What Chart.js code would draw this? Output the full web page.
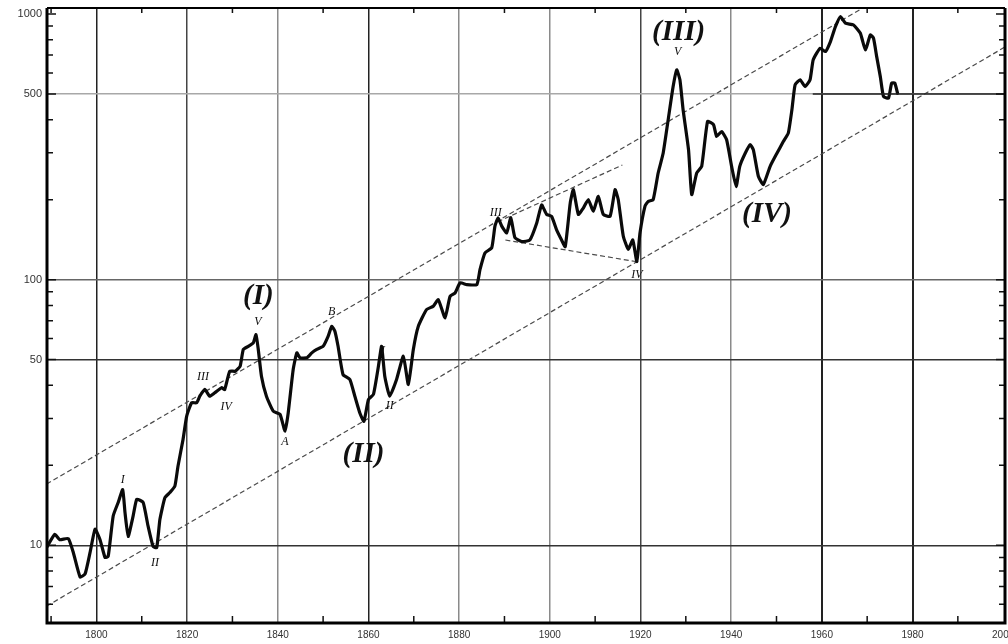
<!DOCTYPE html>
<html>
<head>
<meta charset="utf-8">
<script src="https://cdn.jsdelivr.net/npm/chart.js@4"></script>
<style>
  html, body { margin: 0; padding: 0; background: #fff; }
  #wrap { width: 1008px; height: 644px; }
</style>
</head>
<body>
<div id="wrap"><canvas id="waveChart" width="1008" height="644"></canvas></div>
<script>
// price index
const years = [
  1789.0, 1790.8, 1791.9, 1793.8, 1794.9, 1796.4, 1797.5, 1798.6, 1799.7, 1800.8,
  1801.9, 1802.6, 1803.7, 1804.8, 1805.8, 1806.3, 1807.0, 1808.1, 1808.9, 1810.3,
  1811.4, 1812.5, 1813.3, 1814.0, 1815.1, 1816.2, 1817.3, 1818.0, 1819.1, 1819.9,
  1821.0, 1822.1, 1822.8, 1823.9, 1825.0, 1826.1, 1827.6, 1828.3, 1829.4, 1830.6,
  1831.7, 1832.4, 1833.5, 1834.6, 1835.2, 1835.7, 1836.4, 1837.5, 1839.0, 1840.5,
  1841.6, 1842.3, 1843.4, 1844.2, 1844.9, 1846.4, 1847.5, 1848.6, 1850.0, 1851.1,
  1851.9, 1852.6, 1853.3, 1854.4, 1855.9, 1857.0, 1858.1, 1859.0, 1860.0, 1861.1,
  1862.2, 1862.9, 1863.6, 1864.7, 1866.2, 1867.7, 1868.8, 1869.9, 1871.0, 1872.8,
  1874.3, 1875.4, 1876.9, 1878.0, 1879.1, 1880.2, 1881.7, 1883.9, 1884.6, 1885.7,
  1887.2, 1887.9, 1888.6, 1889.4, 1890.5, 1891.4, 1892.3, 1893.8, 1895.6, 1897.1,
  1898.2, 1899.3, 1900.4, 1901.5, 1902.6, 1903.4, 1904.5, 1905.2, 1906.3, 1907.4,
  1908.5, 1909.6, 1910.7, 1911.8, 1913.3, 1914.4, 1915.1, 1916.2, 1917.3, 1918.3,
  1919.2, 1919.9, 1921.0, 1921.7, 1922.8, 1923.9, 1925.0, 1926.1, 1927.2, 1928.0,
  1928.7, 1929.4, 1930.6, 1931.3, 1932.4, 1933.5, 1934.8, 1936.1, 1936.8, 1937.9,
  1939.0, 1940.1, 1941.1, 1941.9, 1943.1, 1944.2, 1944.9, 1946.0, 1947.1, 1948.6,
  1950.1, 1951.5, 1952.6, 1953.4, 1954.1, 1955.2, 1956.3, 1957.4, 1958.1, 1959.6,
  1960.8, 1961.9, 1963.0, 1964.1, 1965.2, 1967.0, 1968.5, 1969.6, 1970.7, 1971.4,
  1972.1, 1972.9, 1973.6, 1974.7, 1975.4, 1976.1, 1976.7
];
const prices = [
  9.8, 11.0, 10.5, 10.6, 9.4, 7.6, 7.8, 9.4, 11.5, 10.5,
  9.0, 9.1, 12.9, 14.5, 16.2, 13.3, 10.8, 12.9, 14.9, 14.5,
  11.8, 9.9, 9.8, 12.5, 15.1, 15.8, 16.7, 19.9, 25.0, 30.6,
  34.4, 34.4, 36.4, 38.6, 36.4, 37.5, 39.2, 38.6, 45.2, 45.2,
  47.2, 54.6, 56.1, 57.8, 62.1, 54.6, 43.3, 36.4, 32.0, 31.1,
  26.9, 31.5, 45.9, 53.0, 50.8, 50.8, 53.0, 54.6, 56.1, 61.2,
  66.7, 63.9, 56.1, 43.9, 42.1, 36.4, 31.5, 29.3, 35.4, 37.0,
  47.2, 56.1, 43.3, 36.4, 42.1, 51.5, 40.3, 54.6, 66.7, 77.1,
  79.4, 84.1, 71.8, 86.5, 89.1, 97.2, 95.8, 95.8, 109, 126,
  132, 159, 171, 159, 150, 171, 144, 139, 141, 163,
  191, 176, 173, 154, 141, 133, 194, 218, 176, 186,
  200, 181, 206, 176, 173, 218, 200, 146, 130, 141,
  117, 150, 189, 197, 200, 252, 299, 399, 533, 616,
  565, 436, 308, 209, 252, 267, 394, 383, 346, 361,
  336, 267, 224, 267, 299, 322, 308, 245, 228, 267,
  299, 331, 356, 436, 541, 565, 533, 565, 672, 743,
  722, 787, 896, 977, 923, 909, 846, 732, 834, 810,
  691, 581, 489, 482, 549, 549, 503
];

// trend channel and the 1890-1920 triangle
const upperChannelYears = [1789.0, 1972.1];
const upperChannelValues = [17.0, 1129];
const lowerChannelYears = [1789.0, 2000.4];
const lowerChannelValues = [5.9, 751];
const triangleTopYears = [1888.5, 1916.0];
const triangleTopValues = [165, 270];
const triangleBottomYears = [1890.2, 1918.9];
const triangleBottomValues = [141, 117];

// axes
const yearTicks = [1800, 1820, 1840, 1860, 1880, 1900, 1920, 1940, 1960, 1980, 2000];
const valueTicks = [10, 50, 100, 500, 1000];
const minorValueTicks = [6, 7, 8, 9, 20, 30, 40, 60, 70, 80, 90, 200, 300, 400, 600, 700, 800, 900];
const minorYearTicks = [1790, 1810, 1830, 1850, 1870, 1890, 1910, 1930, 1950, 1970, 1990];

// wave count
const waveLabels = ["I", "II", "III", "IV", "(I)", "V", "A", "B", "(II)", "I", "II", "III", "IV", "(III)", "V", "(IV)"];
const waveLabelYears = [1805.8, 1812.9, 1823.5, 1828.6, 1835.7, 1835.6, 1841.6, 1851.9, 1858.9, 1863.2, 1864.7, 1888.1, 1919.2, 1928.4, 1928.2, 1947.9];
const waveLabelValues = [17.7, 8.6, 43.2, 33.3, 86.3, 69.5, 24.6, 75.8, 22.0, 54.0, 33.4, 178.6, 104.4, 855, 722, 175.5];

const toPoints = (xs, ys) => xs.map((x, i) => ({ x: x, y: ys[i] }));

const gridColor = (v) => {
  if (v === 1800 || v === 1860 || v === 1960 || v === 1980) return "#222";
  if (v === 1820 || v === 1920) return "#444";
  if (v === 2000) return "rgba(0,0,0,0)";
  return "#8a8a8a";
};
const hGridColor = (v) => {
  if (v === 1000) return "rgba(0,0,0,0)";
  if (v === 500) return "#a8a8a8";
  if (v === 100) return "#666";
  return "#333";
};

// frame, inward ticks and the hand lettered wave count
const decorPlugin = {
  id: "decor",
  afterDatasetsDraw(chart) {
    const ctx = chart.ctx;
    const xs = chart.scales.x, ys = chart.scales.y;
    ctx.save();
    ctx.fillStyle = "#111";
    ctx.textAlign = "center";
    ctx.textBaseline = "middle";
    waveLabels.forEach((t, i) => {
      const big = t.startsWith("(");
      ctx.font = big ? "italic bold 29px 'Liberation Serif'" : "italic 12px 'Liberation Serif'";
      ctx.fillText(t, xs.getPixelForValue(waveLabelYears[i]), ys.getPixelForValue(waveLabelValues[i]));
    });
    ctx.restore();
  },
  afterDraw(chart) {
    const ctx = chart.ctx;
    const a = chart.chartArea;
    const xs = chart.scales.x, ys = chart.scales.y;
    ctx.save();
    // dark right half of the 500 line
    ctx.strokeStyle = "#222";
    ctx.lineWidth = 1.6;
    const y500 = ys.getPixelForValue(500);
    ctx.beginPath();
    ctx.moveTo(xs.getPixelForValue(1958), y500);
    ctx.lineTo(a.right, y500);
    ctx.stroke();

    ctx.strokeStyle = "#111";
    ctx.lineWidth = 1.5;
    ctx.beginPath();
    minorValueTicks.concat(valueTicks).forEach(v => {
      const y = ys.getPixelForValue(v);
      const len = valueTicks.includes(v) ? 9 : 6;
      ctx.moveTo(a.left, y); ctx.lineTo(a.left + len, y);
      ctx.moveTo(a.right, y); ctx.lineTo(a.right - len, y);
    });
    minorYearTicks.forEach(v => {
      const x = xs.getPixelForValue(v);
      ctx.moveTo(x, a.bottom); ctx.lineTo(x, a.bottom - 7);
      ctx.moveTo(x, a.top); ctx.lineTo(x, a.top + 5);
    });
    ctx.stroke();

    ctx.lineWidth = 3;
    ctx.strokeStyle = "#000";
    ctx.beginPath();
    ctx.moveTo(a.left, a.top); ctx.lineTo(a.left, a.bottom); ctx.lineTo(a.right, a.bottom); ctx.lineTo(a.right, a.top);
    ctx.stroke();
    ctx.lineWidth = 2;
    ctx.beginPath();
    ctx.moveTo(a.left, a.top); ctx.lineTo(a.right, a.top);
    ctx.stroke();
    ctx.restore();
  }
};

const thinLine = (data) => ({
  data: data,
  borderColor: "#4a4a4a",
  borderWidth: 1.2,
  borderDash: [5, 3],
  pointRadius: 0,
  fill: false,
  tension: 0
});

new Chart(document.getElementById("waveChart"), {
  type: "line",
  data: {
    datasets: [
      {
        data: toPoints(years, prices),
        borderColor: "#0a0a0a",
        borderWidth: 3.2,
        borderJoinStyle: "round",
        borderCapStyle: "round",
        pointRadius: 0,
        fill: false,
        tension: 0.15
      },
      thinLine(toPoints(upperChannelYears, upperChannelValues)),
      thinLine(toPoints(lowerChannelYears, lowerChannelValues)),
      thinLine(toPoints(triangleTopYears, triangleTopValues)),
      thinLine(toPoints(triangleBottomYears, triangleBottomValues))
    ]
  },
  options: {
    responsive: false,
    animation: false,
    layout: { padding: { top: 8, right: 3, left: 0, bottom: 0 } },
    plugins: { legend: { display: false }, tooltip: { enabled: false } },
    scales: {
      x: {
        type: "linear",
        min: 1789.1,
        max: 2000.4,
        afterBuildTicks: (scale) => { scale.ticks = yearTicks.map(v => ({ value: v })); },
        afterFit: (scale) => {
          scale.height = 21;
          scale.paddingLeft = 0;
          scale.paddingRight = 0;
        },
        border: { display: false },
        grid: {
          drawTicks: false,
          lineWidth: (c) => (c.tick && (c.tick.value === 1960 || c.tick.value === 1980) ? 2 : 1.5),
          color: (c) => gridColor(c.tick ? c.tick.value : 0)
        },
        ticks: {
          padding: 6,
          maxRotation: 0,
          autoSkip: false,
          color: "#333",
          font: { family: "'Liberation Sans'", size: 10 },
          callback: (v) => String(v)
        }
      },
      y: {
        type: "logarithmic",
        min: 5.1,
        max: 1053,
        afterBuildTicks: (scale) => { scale.ticks = valueTicks.map(v => ({ value: v })); },
        afterFit: (scale) => {
          scale.width = 47;
          scale.paddingTop = 0;
          scale.paddingBottom = 0;
        },
        border: { display: false },
        grid: {
          drawTicks: false,
          lineWidth: 1.6,
          color: (c) => hGridColor(c.tick ? c.tick.value : 0)
        },
        ticks: {
          padding: 5,
          color: "#333",
          font: { family: "'Liberation Sans'", size: 11 },
          callback: (v) => String(v)
        }
      }
    }
  },
  plugins: [decorPlugin]
});
</script>
</body>
</html>
